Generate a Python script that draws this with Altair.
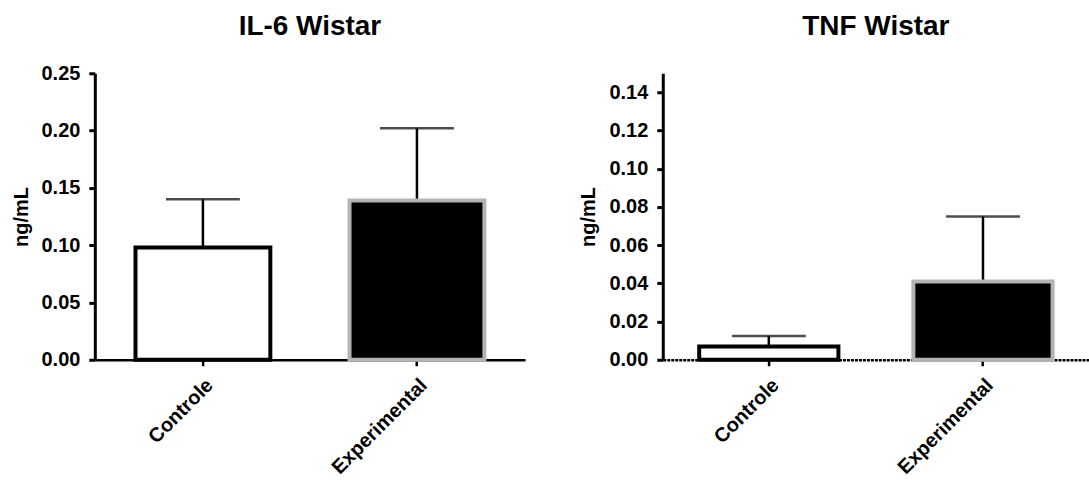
import altair as alt
import pandas as pd

groups = ["Controle", "Experimental"]
il6_mean = [0.098, 0.139]
il6_sd = [0.042, 0.063]
tnf_mean = [0.007, 0.041]
tnf_sd = [0.0055, 0.034]

FONT = "Liberation Sans"


def panel(title, means, sds, ymax, ticks, width, p_inner, p_outer, dash, toffset):
    df = pd.DataFrame({
        "group": groups,
        "mean": means,
        "upper": [m + s for m, s in zip(means, sds)],
    })
    x = alt.X(
        "group:N",
        sort=groups,
        title=None,
        scale=alt.Scale(paddingInner=p_inner, paddingOuter=p_outer),
        axis=alt.Axis(
            labelAngle=-45,
            labelFont=FONT,
            labelFontSize=20,
            labelFontWeight="bold",
            labelColor="black",
            labelPadding=9,
            domainColor="black",
            domainWidth=2.5,
            domainDash=dash if dash else alt.Undefined,
            tickColor="black",
            tickWidth=2.5,
            tickSize=6,
        ),
    )
    y_scale = alt.Scale(domain=[0, ymax], nice=False, zero=True)
    y_axis = alt.Axis(
        values=ticks,
        format=".2f",
        title="ng/mL",
        titleFont=FONT,
        titleFontSize=20,
        titleFontWeight="bold",
        titleColor="black",
        titlePadding=10,
        labelFont=FONT,
        labelFontSize=20,
        labelFontWeight="bold",
        labelColor="black",
        labelPadding=9,
        domainColor="black",
        domainWidth=3,
        tickColor="black",
        tickWidth=3,
        tickSize=6,
        grid=False,
    )
    base = alt.Chart(df)
    rule = base.mark_rule(color="black", strokeWidth=2.5).encode(
        x=x,
        y=alt.Y("mean:Q", scale=y_scale, axis=y_axis),
        y2="upper:Q",
    )
    cap = base.mark_tick(color="black", thickness=2.5, size=74, orient="horizontal").encode(
        x=x,
        y=alt.Y("upper:Q", scale=y_scale),
    )
    bars = base.mark_bar(strokeWidth=4).encode(
        x=x,
        y=alt.Y("mean:Q", scale=y_scale),
        fill=alt.Fill("group:N", scale=alt.Scale(domain=groups, range=["white", "black"]), legend=None),
        stroke=alt.Stroke("group:N", scale=alt.Scale(domain=groups, range=["black", "#b4b4b4"]), legend=None),
    )
    return alt.layer(rule, cap, bars).properties(
        width=width,
        height=287,
        title=alt.TitleParams(
            title, font=FONT, fontSize=28, fontWeight="bold", color="black",
            offset=toffset, frame="group", anchor="middle"
        ),
    )


left = panel("IL-6 Wistar", il6_mean, il6_sd, 0.25,
             [0, 0.05, 0.10, 0.15, 0.20, 0.25], 431, 0.37, 0.19, None, 22)
right = panel("TNF Wistar", tnf_mean, tnf_sd, 0.15,
              [0, 0.02, 0.04, 0.06, 0.08, 0.10, 0.12, 0.14], 427, 0.35, 0.17, [3, 1], 32)

chart = alt.hconcat(left, right, spacing=54).configure_view(stroke=None).properties(
    padding={"left": 11, "top": 13, "right": 0, "bottom": 0},
    background="white",
)

chart.save("out.html", embed_options={"renderer": "svg", "actions": False})
